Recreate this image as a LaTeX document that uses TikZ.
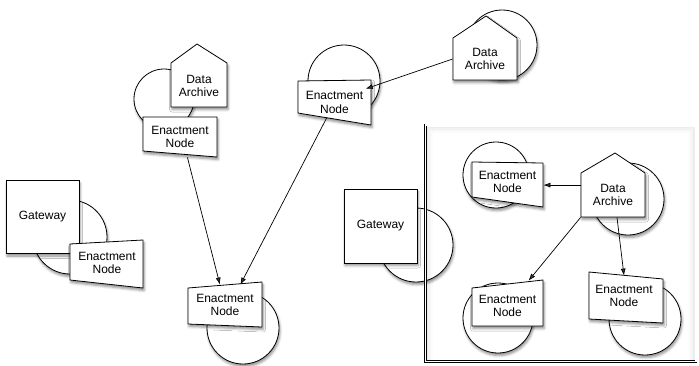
\documentclass[tikz,border=0pt]{standalone}
\usepackage{fontspec}
\setmainfont{Liberation Sans}
\usetikzlibrary{arrows.meta,shadows.blur}

\begin{document}
\begin{tikzpicture}[x=1pt,y=-1pt,
  line width=0.8pt,
  softshadow/.style={blur shadow={shadow xshift=1pt,shadow yshift=-2.5pt,
      shadow blur radius=2.5pt,shadow opacity=45}},
  disk/.style={draw,fill=white,softshadow},
  panel/.style={draw,fill=white,softshadow,line join=miter},
  lbl/.style={align=center,font=\fontsize{12}{13.5}\selectfont,inner sep=0pt},
  enact/.style={lbl,minimum width=73pt,minimum height=40pt},
  archive/.style={lbl,minimum width=64pt,minimum height=44pt},
  gate/.style={lbl,draw,fill=white,softshadow,minimum width=73pt,minimum height=73pt},
  arr/.style={-{Latex[length=7pt,width=5pt]},line width=0.7pt},
  framebox/.style={draw,double,double distance=1.3pt,line width=0.7pt},
]
\useasboundingbox (0,0) rectangle (699,365);

% --- left gateway with its enactment node
\draw[disk] (70,237) circle[radius=37pt];
\node[gate] (g1) at (42.5,217) {Gateway};
\draw[panel] (70,244) -- (143,240) -- (143,288) -- (70,280) -- cycle;
\node[enact] (e1) at (107,263) {Enactment\\Node};

% --- archive and enactment node, upper left
\draw[disk] (164,99) circle[radius=30pt];
\draw[panel] (171,107) -- (227,107) -- (227,63) -- (197,44) -- (171,63) -- cycle;
\node[lbl,minimum width=56pt,minimum height=44pt] (a1) at (199,86) {Data\\Archive};
\draw[panel] (143,117) -- (217,117) -- (217,157) -- (143,151) -- cycle;
\node[enact] (e2) at (180,137) {Enactment\\Node};

% --- enactment node, top middle
\draw[disk] (344,81) circle[radius=36pt];
\draw[panel] (298,81) -- (371,80) -- (371,125) -- (298,113) -- cycle;
\node[enact] (e3) at (334.5,102.5) {Enactment\\Node};

% --- archive, top right
\draw[disk] (502,45) circle[radius=35pt];
\draw[panel] (453,80) -- (517,80) -- (517,38) -- (486,16) -- (453,38) -- cycle;
\node[archive] (a2) at (485,59) {Data\\Archive};

% --- enactment node, bottom middle
\draw[disk] (243,328) circle[radius=36pt];
\draw[panel] (188,288) -- (262,282) -- (262,327) -- (188,324) -- cycle;
\node[enact] (e4) at (225,305) {Enactment\\Node};

% --- gateway of the enclosed site
\draw[disk] (416,245) circle[radius=37pt];
\node[gate,minimum height=74pt] (g2) at (380.5,226) {Gateway};

% --- site frame with a faint inner shade
\begin{scope}
  \clip (426.5,126.5) rectangle (695,360.5);
  \foreach \i/\o in {0.5/0.07,2/0.05,3.5/0.03,5/0.015}
    \draw[line width=1.5pt,black,opacity=\o]
      ({427+\i},361) -- ({427+\i},{127+\i}) -- ({694.5-\i},{127+\i}) -- ({694.5-\i},361);
\end{scope}
\draw[framebox] (425.5,125) rectangle (696,361.5);

% --- nodes inside the site
\draw[disk] (496,175) circle[radius=33pt];
\draw[panel] (472,162) -- (543,163) -- (543,207) -- (472,197) -- cycle;
\node[enact,minimum width=71pt] (e5) at (507.5,182) {Enactment\\Node};

\draw[disk] (628,199) circle[radius=36pt];
\draw[panel] (581,217) -- (645,217) -- (645,173) -- (615,153) -- (581,173) -- cycle;
\node[archive] (a3) at (613,195) {Data\\Archive};

\draw[disk] (498,318) circle[radius=35pt];
\draw[panel] (472,288) -- (543,280) -- (543,326) -- (472,326) -- cycle;
\node[enact,minimum width=71pt] (e6) at (507.5,306) {Enactment\\Node};

\draw[disk] (645,319) circle[radius=36pt];
\draw[panel] (589,272) -- (663,279) -- (663,323) -- (589,319) -- cycle;
\node[enact,minimum width=74pt] (e7) at (624,296) {Enactment\\Node};

% --- connectors
\draw[arr,shorten >=-6pt] (a2.west) -- (e3.23);
\draw[arr] (e2.-70) -- (e4.104);
\draw[arr] ([yshift=5pt]e3.-111) -- (e4.53);
\draw[arr] (a3.163) -- (e5.east |- a3.163);
\draw[arr] (a3.south west) -- ([yshift=5pt]e6.44);
\draw[arr] ([xshift=4pt]a3.south) -- (e7.north);
\end{tikzpicture}
\end{document}
